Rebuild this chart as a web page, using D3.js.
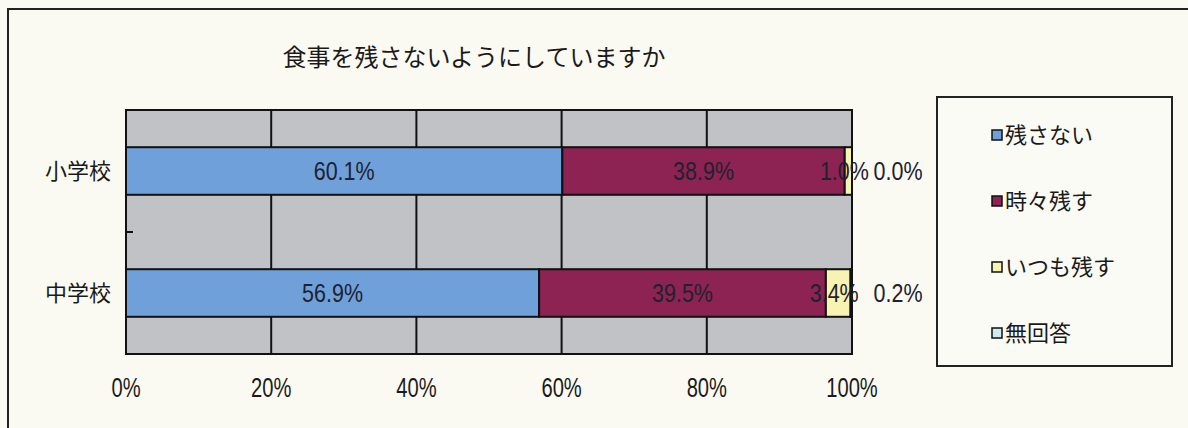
<!DOCTYPE html>
<html lang="ja">
<head>
    <meta charset="UTF-8">
    <title>食事を残さないようにしていますか</title>
    <script src="https://d3js.org/d3.v7.min.js"></script>
    <style>
        body {
            margin: 0;
            background-color: #fafaf3;
        }

        svg {
            display: block;
        }

        .title {
            font-family: 'Noto Sans CJK JP', sans-serif;
            font-size: 24px;
            fill: #1a1a1a;
        }

        .cat-label {
            font-family: 'Noto Sans CJK JP', sans-serif;
            font-size: 22px;
            fill: #1a1a1a;
        }

        .value-label {
            font-family: 'Liberation Sans Narrow', 'Liberation Sans', sans-serif;
            font-size: 25px;
            fill: #1e2230;
        }

        .tick-label {
            font-family: 'Liberation Sans Narrow', 'Liberation Sans', sans-serif;
            font-size: 28px;
            fill: #1a1a1a;
        }

        .legend-text {
            font-family: 'Noto Sans CJK JP', sans-serif;
            font-size: 22px;
            fill: #1a1a1a;
        }
    </style>
</head>
<body>
    <svg width="1188" height="428"></svg>

    <script>
        const categories = ['小学校', '中学校'];
        const seriesNames = ['残さない', '時々残す', 'いつも残す', '無回答'];
        const seriesColors = ['#6fa0da', '#8c2352', '#f6f3b3', '#cdeceb'];
        const noLeft = [60.1, 56.9];      // 残さない
        const sometimes = [38.9, 39.5];   // 時々残す
        const always = [1.0, 3.4];        // いつも残す
        const noAnswer = [0.0, 0.2];      // 無回答
        const tickValues = [0, 20, 40, 60, 80, 100];

        const series = [noLeft, sometimes, always, noAnswer];

        const svg = d3.select('svg');
        const plot = { left: 126, right: 852, top: 110, bottom: 354 };

        const x = d3.scaleLinear()
            .domain([0, 100])
            .range([plot.left, plot.right]);

        const y = d3.scaleBand()
            .domain(categories)
            .range([plot.top, plot.bottom])
            .paddingInner(0.61)
            .paddingOuter(0.305);

        // outer frame
        svg.append('rect')
            .attr('x', 8)
            .attr('y', 9)
            .attr('width', 1300)
            .attr('height', 600)
            .attr('fill', 'none')
            .attr('stroke', '#222')
            .attr('stroke-width', 2);

        // title
        svg.append('text')
            .attr('class', 'title')
            .attr('x', 474)
            .attr('y', 66)
            .attr('text-anchor', 'middle')
            .text('食事を残さないようにしていますか');

        // plot background
        svg.append('rect')
            .attr('x', plot.left)
            .attr('y', plot.top)
            .attr('width', plot.right - plot.left)
            .attr('height', plot.bottom - plot.top)
            .attr('fill', '#c0c2c5');

        // vertical gridlines
        svg.append('g')
            .selectAll('line')
            .data(tickValues.slice(1, -1))
            .enter().append('line')
            .attr('x1', d => x(d))
            .attr('x2', d => x(d))
            .attr('y1', plot.top)
            .attr('y2', plot.bottom)
            .attr('stroke', '#111')
            .attr('stroke-width', 2);

        // stacked bars
        const rows = categories.map((c, i) => {
            let acc = 0;
            return series.map((s, k) => {
                const seg = { cat: c, k: k, v: s[i], x0: acc, x1: acc + s[i] };
                acc += s[i];
                return seg;
            });
        });

        const segs = rows.flat();

        svg.append('g')
            .selectAll('rect')
            .data(segs)
            .enter().append('rect')
            .attr('x', d => x(d.x0))
            .attr('y', d => y(d.cat))
            .attr('width', d => x(d.x1) - x(d.x0))
            .attr('height', y.bandwidth())
            .attr('fill', d => seriesColors[d.k])
            .attr('stroke', '#111')
            .attr('stroke-width', 2);

        // plot border
        svg.append('rect')
            .attr('x', plot.left)
            .attr('y', plot.top)
            .attr('width', plot.right - plot.left)
            .attr('height', plot.bottom - plot.top)
            .attr('fill', 'none')
            .attr('stroke', '#111')
            .attr('stroke-width', 2);

        // category divider tick
        svg.append('line')
            .attr('x1', plot.left)
            .attr('x2', plot.left + 7)
            .attr('y1', (plot.top + plot.bottom) / 2)
            .attr('y2', (plot.top + plot.bottom) / 2)
            .attr('stroke', '#111')
            .attr('stroke-width', 2);

        // value labels (the tiny 無回答 segment gets its label beside the bar)
        const labelX = d => d.k === 3 ? x(d.x1) + 46 : x((d.x0 + d.x1) / 2) - (d.k === 2 ? 4 : 0);

        svg.append('g')
            .selectAll('text')
            .data(segs)
            .enter().append('text')
            .attr('class', 'value-label')
            .attr('text-anchor', 'middle')
            .attr('transform', d => `translate(${labelX(d)},${y(d.cat) + y.bandwidth() / 2 + 9}) scale(0.86,1)`)
            .text(d => d.v.toFixed(1) + '%');

        // category labels
        svg.append('g')
            .selectAll('text')
            .data(categories)
            .enter().append('text')
            .attr('class', 'cat-label')
            .attr('x', 111)
            .attr('y', d => y(d) + y.bandwidth() / 2 + 8)
            .attr('text-anchor', 'end')
            .text(d => d);

        // x tick labels
        svg.append('g')
            .selectAll('text')
            .data(tickValues)
            .enter().append('text')
            .attr('class', 'tick-label')
            .attr('text-anchor', 'middle')
            .attr('transform', d => `translate(${x(d)},397) scale(0.72,1)`)
            .text(d => d + '%');

        // legend
        const legend = svg.append('g');
        legend.append('rect')
            .attr('x', 937)
            .attr('y', 97)
            .attr('width', 235)
            .attr('height', 269)
            .attr('fill', '#fbfbf5')
            .attr('stroke', '#222')
            .attr('stroke-width', 2);

        const items = legend.selectAll('g.item')
            .data(seriesNames)
            .enter().append('g')
            .attr('class', 'item')
            .attr('transform', (d, i) => `translate(992,${135 + i * 66})`);

        items.append('rect')
            .attr('x', 0)
            .attr('y', -5)
            .attr('width', 10)
            .attr('height', 10)
            .attr('fill', (d, i) => seriesColors[i])
            .attr('stroke', '#111')
            .attr('stroke-width', 1.5);

        items.append('text')
            .attr('class', 'legend-text')
            .attr('x', 13)
            .attr('y', 8)
            .text(d => d);
    </script>
</body>
</html>
